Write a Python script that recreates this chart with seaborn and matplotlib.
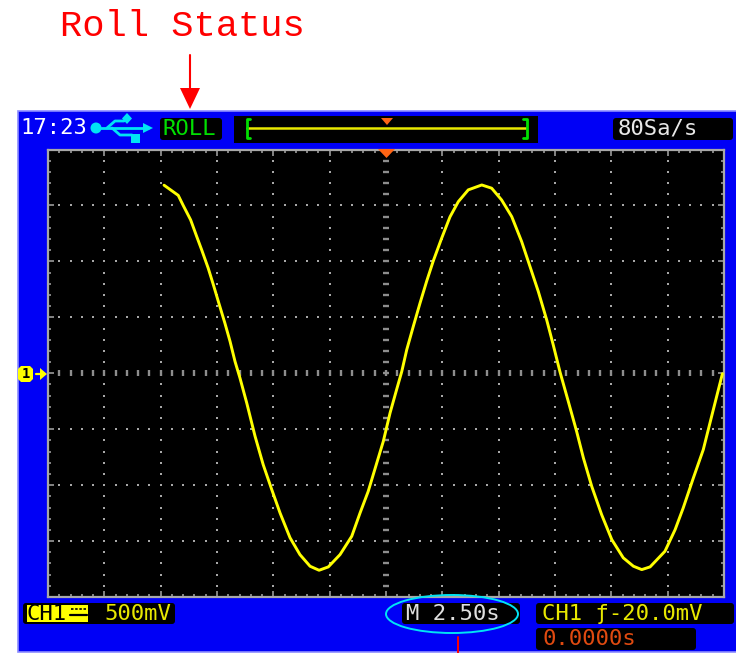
import numpy as np
import pandas as pd
import matplotlib
matplotlib.use("Agg")
import matplotlib.pyplot as plt
import seaborn as sns
from matplotlib.patches import Rectangle, FancyBboxPatch, Circle, Ellipse, Polygon

# Trace: time in seconds (2.50 s/div), level in mV (500 mV/div)
time_s = [-9.85, -9.22, -9.00, -8.67, -8.40, -8.18, -7.89, -7.66, -7.44, -7.15, -6.92, -6.70, -6.48, -6.18,
          -5.81, -5.45, -5.07, -4.70, -4.26, -3.82, -3.37, -2.97, -2.56, -2.04, -1.52, -1.15, -0.79, -0.41,
          -0.12, 0.18, 0.47, 0.70, 0.92, 1.21, 1.51, 1.81, 2.10, 2.47, 2.84, 3.21, 3.65, 4.25, 4.69, 5.13,
          5.58, 6.02, 6.39, 6.76, 7.13, 7.42, 7.72, 8.09, 8.46, 8.76, 9.13, 9.57, 10.02, 10.53, 10.98, 11.35,
          11.72, 12.38, 12.83, 13.19, 13.64, 14.08, 14.45, 14.75, 14.93]
level_mv = [1681, 1590, 1500, 1371, 1222, 1103, 939, 790, 641, 448, 284, 105, -43, -266,
            -564, -817, -1040, -1250, -1470, -1621, -1725, -1761, -1731, -1621, -1457, -1248, -1056, -802,
            -609, -355, -147, 16, 210, 418, 627, 826, 1005, 1207, 1398, 1534, 1639, 1683, 1654, 1549,
            1400, 1177, 954, 730, 478, 255, 13, -252, -520, -757, -1011, -1264, -1487, -1650, -1725, -1755,
            -1731, -1591, -1398, -1204, -936, -683, -386, -147, -4]

title_text = "Roll Status"
clock_text = "17:23"
status_text = "ROLL"
rate_text = "80Sa/s"
channel_text = "CH1"
scale_text = "500mV"
timebase_text = "M 2.50s"
trigger_text = "CH1 ƒ-20.0mV"
offset_text = "0.0000s"

BLUE = "#0000f6"
EDGE = "#8c8cff"
GRAY = "#a8a8a8"
DASH = "#8e8e8e"
YELLOW = "#ffff00"
ORANGE = "#ff6414"
CYAN = "#00e4f4"
GREEN = "#00e000"
RED = "#ff0000"
MONO = "DejaVu Sans Mono"

sns.set_style("white")
W, H = 736, 653
fig = plt.figure(figsize=(W / 100, H / 100), dpi=100, facecolor="white")

# Background layer in screen pixels
bg = fig.add_axes([0, 0, 1, 1], zorder=0)
bg.set_xlim(0, W)
bg.set_ylim(H, 0)
bg.axis("off")
bg.add_patch(Rectangle((18, 111), 720, 541, fc=BLUE, ec=EDGE, lw=1.2))


def box(a, x0, x1, y0, y1, fc="black"):
    a.add_patch(FancyBboxPatch((x0 + 2, y0 + 2), x1 - x0 - 4, y1 - y0 - 4,
                               boxstyle="round,pad=2,rounding_size=3", fc=fc, ec="none"))


def label(a, x, y, s, color, size=16):
    a.text(x, y, s, color=color, family=MONO, fontsize=size, ha="left", va="center")


# Scope graticule
ax = fig.add_axes([48 / W, (H - 597) / H, 676 / W, 447.5 / H], zorder=1, facecolor="black")
df = pd.DataFrame({"time_s": time_s, "level_mv": level_mv})

div_x = np.arange(-15, 15.01, 2.5)
div_y = np.arange(-2000, 2000.1, 500)
sub_x = np.arange(-15, 15.01, 0.5)
sub_y = np.arange(-2000, 2000.1, 100)
gx, gy = np.meshgrid(div_x[1:-1], sub_y[1:-1])
ax.scatter(gx.ravel(), gy.ravel(), marker="s", s=3.2, color=GRAY, linewidths=0, zorder=2)
gx, gy = np.meshgrid(sub_x[1:-1], div_y[1:-1])
ax.scatter(gx.ravel(), gy.ravel(), marker="s", s=3.2, color=GRAY, linewidths=0, zorder=2)
ax.scatter(sub_x[1:-1], np.zeros(len(sub_x) - 2), marker="|", s=22, color=DASH, linewidths=1.7, zorder=2)
ax.scatter(np.zeros(len(sub_y) - 2), sub_y[1:-1], marker="_", s=22, color=DASH, linewidths=1.7, zorder=2)

sns.lineplot(data=df, x="time_s", y="level_mv", ax=ax, color=YELLOW, linewidth=2.1,
             sort=False, estimator=None, legend=False, zorder=3)

ax.set_xlim(-15, 15)
ax.set_ylim(-2000, 2000)
ax.set_xticks(div_x)
ax.set_yticks(div_y)
ax.set_xticks(sub_x, minor=True)
ax.set_yticks(sub_y, minor=True)
ax.tick_params(which="major", direction="in", length=4, width=1.1, color=GRAY,
               top=True, right=True, bottom=True, left=True, labelbottom=False, labelleft=False)
ax.tick_params(which="minor", direction="in", length=2.2, width=1.1, color=GRAY,
               top=True, right=True, bottom=True, left=True)
ax.set_xlabel("")
ax.set_ylabel("")
ax.grid(False)
for s in ax.spines.values():
    s.set_color(GRAY)
    s.set_linewidth(1.6)

# Overlay layer in screen pixels
ov = fig.add_axes([0, 0, 1, 1], zorder=2)
ov.set_xlim(0, W)
ov.set_ylim(H, 0)
ov.axis("off")
ov.patch.set_alpha(0)

# Title and arrow
ov.text(60, 26, title_text, color=RED, family="Liberation Mono", fontsize=26.7, ha="left", va="center")
ov.plot([190, 190], [55, 92], color=RED, lw=1.5)
ov.add_patch(Polygon([(180, 88), (200, 88), (190, 109)], fc=RED, ec="none"))

# Header
label(ov, 20, 128, clock_text, "white")
ov.add_patch(Circle((96, 128), 5.5, fc=CYAN, ec="none"))
ov.plot([100, 148], [128, 128], color=CYAN, lw=2)
ov.plot([107, 115, 124], [128, 121, 121], color=CYAN, lw=2)
ov.plot([112, 120, 132], [128, 135, 135], color=CYAN, lw=2)
ov.add_patch(Polygon([(127, 113), (132, 118.5), (127, 124), (122, 118.5)], fc=CYAN, ec="none"))
ov.add_patch(Rectangle((131, 134), 8.5, 9, fc=CYAN, ec="none"))
ov.add_patch(Polygon([(143, 123), (153, 128), (143, 133)], fc=CYAN, ec="none"))

box(ov, 160, 222, 118, 140)
label(ov, 163, 129, status_text, GREEN)

ov.add_patch(Rectangle((234, 116), 304, 27, fc="black", ec="none"))
ov.plot([247, 526], [128, 128], color="#e8e800", lw=1.8)
ov.plot([250, 247, 247, 250], [118.5, 118.5, 138, 138], color=GREEN, lw=2)
ov.plot([523, 526.5, 526.5, 523], [118.5, 118.5, 138, 138], color=GREEN, lw=2)
ov.add_patch(Polygon([(381, 118), (393, 118), (387, 125)], fc=ORANGE, ec="none"))

box(ov, 613, 733, 118, 140)
label(ov, 618, 129, rate_text, "#e8e8e8")

# Trigger position and channel markers
ov.add_patch(Polygon([(378, 149), (395, 149), (386.5, 158)], fc=ORANGE, ec="none"))
ov.add_patch(Polygon([(21, 366), (30, 366), (33, 369), (33, 379), (30, 382), (21, 382), (18, 379), (18, 369)],
                     fc=YELLOW, ec="none"))
ov.text(25.5, 374, "1", color="black", family=MONO, fontsize=10, fontweight="bold", ha="center", va="center")
ov.plot([36, 43], [374, 374], color=YELLOW, lw=1.6)
ov.add_patch(Polygon([(40, 368), (47, 374), (40, 380)], fc=YELLOW, ec="none"))

# Footer
box(ov, 23, 175, 603, 624)
ov.add_patch(Rectangle((27, 605), 61, 17, fc=YELLOW, ec="none"))
label(ov, 27, 613.5, channel_text, "black")
ov.plot([71, 87], [609, 609], color="black", lw=1.2, dashes=(1.5, 1))
ov.plot([70, 87], [615, 615], color="black", lw=1.6)
label(ov, 104, 613.5, scale_text, "#e8e800")

box(ov, 402, 520, 603, 624)
label(ov, 406, 613.5, timebase_text, "#e0e0e0")
ov.add_patch(Ellipse((452, 614), 132, 38, fc="none", ec=CYAN, lw=1.4))
ov.plot([458, 458], [637, 653], color=RED, lw=1.4)

box(ov, 536, 734, 603, 624)
label(ov, 542, 613.5, trigger_text, "#e8e800")
box(ov, 536, 696, 628, 650)
label(ov, 542, 639, offset_text, "#e04a10")

fig.savefig("out.png", dpi=100, facecolor="white")
